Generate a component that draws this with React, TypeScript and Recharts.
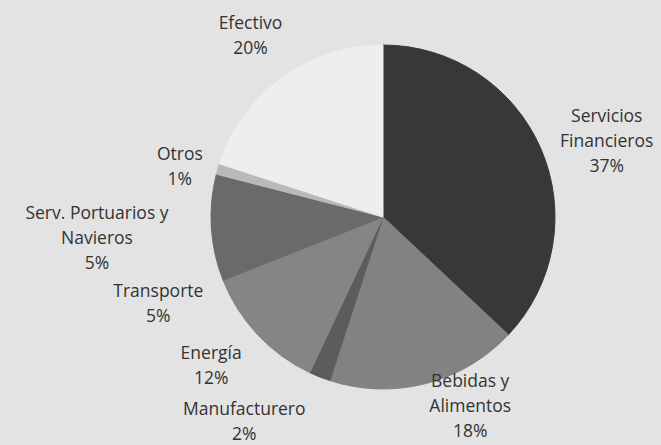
import { Cell, Pie, PieChart } from "recharts"

const NAMES = [
  "Servicios\nFinancieros",
  "Bebidas y\nAlimentos",
  "Manufacturero",
  "Energía",
  "Transporte",
  "Serv. Portuarios y\nNavieros",
  "Otros",
  "Efectivo",
]
const VALUES = [37, 18, 2, 12, 5, 5, 1, 20]

const COLORS = ["#383838", "#828282", "#5c5c5c", "#858585", "#6a6a6a", "#6a6a6a", "#b9b9b9", "#eeeeee"]

// fine tuning of where each data label sits, relative to a point just outside the slice
const NUDGE: Record<string, [number, number]> = {
  "Servicios\nFinancieros": [20, 11],
  "Bebidas y\nAlimentos": [32, -27],
  Manufacturero: [-57, -3],
  "Energía": [-10, -4],
  Transporte: [-8, 37],
  "Serv. Portuarios y\nNavieros": [-65, 41],
  Otros: [10, 10],
  Efectivo: [-2, -3],
}

const data = NAMES.map((name, i) => ({ name, value: VALUES[i] }))

const RAD = Math.PI / 180
const LINE = 25

function renderLabel(props: any) {
  const { cx, cy, midAngle, outerRadius, name, value } = props
  const r = outerRadius + 50
  const [dx, dy] = NUDGE[name] ?? [0, 0]
  const x = cx + r * Math.cos(-midAngle * RAD) + dx
  const y = cy + r * Math.sin(-midAngle * RAD) + dy
  const lines = [...String(name).split("\n"), `${value}%`]
  const top = y - ((lines.length - 1) * LINE) / 2
  return (
    <text
      x={x}
      y={top}
      textAnchor="middle"
      dominantBaseline="central"
      fill="#333333"
      fontSize={17.5}
      fontFamily="'Open Sans', sans-serif"
    >
      {lines.map((l, i) => (
        <tspan key={i} x={x} y={top + i * LINE}>
          {l}
        </tspan>
      ))}
    </text>
  )
}

export default function App() {
  return (
    <div style={{ position: "absolute", top: 0, left: 0, width: 661, height: 445, background: "#e3e3e3" }}>
      <PieChart width={661} height={445} margin={{ top: 0, right: 0, bottom: 0, left: 0 }}>
        <Pie
          data={data}
          dataKey="value"
          nameKey="name"
          cx={383}
          cy={217}
          outerRadius={172}
          startAngle={90}
          endAngle={-270}
          label={renderLabel}
          labelLine={false}
          isAnimationActive={false}
        >
          {data.map((d, i) => (
            <Cell key={d.name} fill={COLORS[i]} stroke={COLORS[i]} strokeWidth={1} />
          ))}
        </Pie>
      </PieChart>
    </div>
  )
}
